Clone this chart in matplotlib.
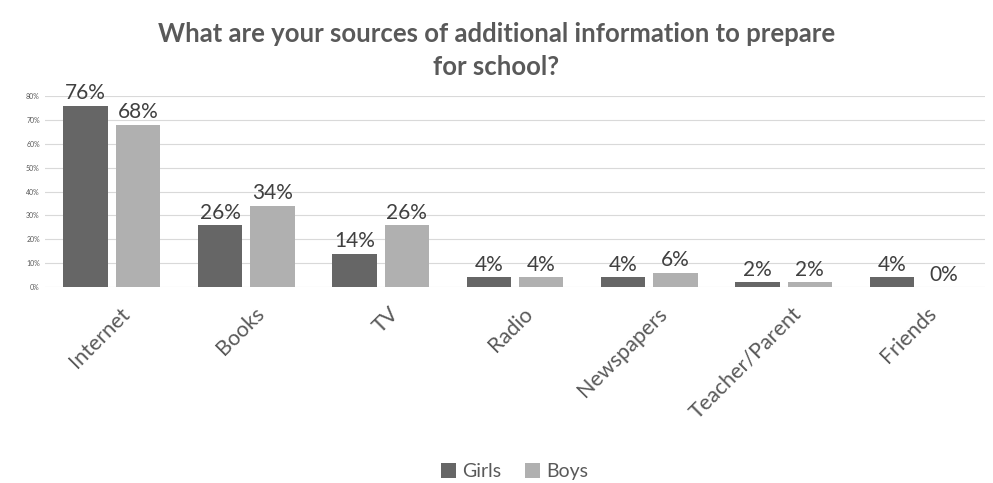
import matplotlib
matplotlib.use('Agg')
import matplotlib.pyplot as plt
import numpy as np

categories = ['Internet', 'Books', 'TV', 'Radio', 'Newspapers', 'Teacher/Parent', 'Friends']
girls = [76, 26, 14, 4, 4, 2, 4]
boys = [68, 34, 26, 4, 6, 2, 0]

plt.rcParams['font.family'] = ['Lato', 'DejaVu Sans']

fig = plt.figure(figsize=(9.93, 4.83), dpi=100)
ax = fig.add_axes([0.045, 0.406, 0.947, 0.395])

x = np.arange(len(categories))
w = 0.33
gap = 0.03
b1 = ax.bar(x - w / 2 - gap, girls, w, color='#666666', label='Girls', zorder=3)
b2 = ax.bar(x + w / 2 + gap, boys, w, color='#b0b0b0', label='Boys', zorder=3)

for bars, vals in ((b1, girls), (b2, boys)):
    for rect, v in zip(bars, vals):
        ax.text(rect.get_x() + rect.get_width() / 2, v + 1.0, f'{v}%',
                ha='center', va='bottom', fontsize=15, color='#404040')

ax.set_xlim(-0.5, len(categories) - 0.5)
ax.set_ylim(0, 80)
ax.set_yticks(range(0, 81, 10))
ax.set_yticklabels([f'{t}%' for t in range(0, 81, 10)], fontsize=5, color='#595959')
ax.grid(axis='y', color='#d9d9d9', linewidth=0.8, zorder=0)
for s in ax.spines.values():
    s.set_visible(False)
ax.tick_params(length=0)
ax.tick_params(axis='x', pad=12)
ax.set_xticks(x + 0.06)
ax.set_xticklabels(categories, rotation=45, ha='right', rotation_mode='anchor',
                   fontsize=15.5, color='#595959')

fig.suptitle('What are your sources of additional information to prepare\nfor school?',
             y=0.955, fontsize=18.5, fontweight='bold', color='#595959', linespacing=1.45)

fig.legend(loc='lower center', bbox_to_anchor=(0.518, -0.03), ncol=2, frameon=False,
           fontsize=14, labelcolor='#595959', handlelength=0.8, handleheight=0.8,
           handletextpad=0.3, columnspacing=1.2)

fig.savefig('out.png', dpi=100)
